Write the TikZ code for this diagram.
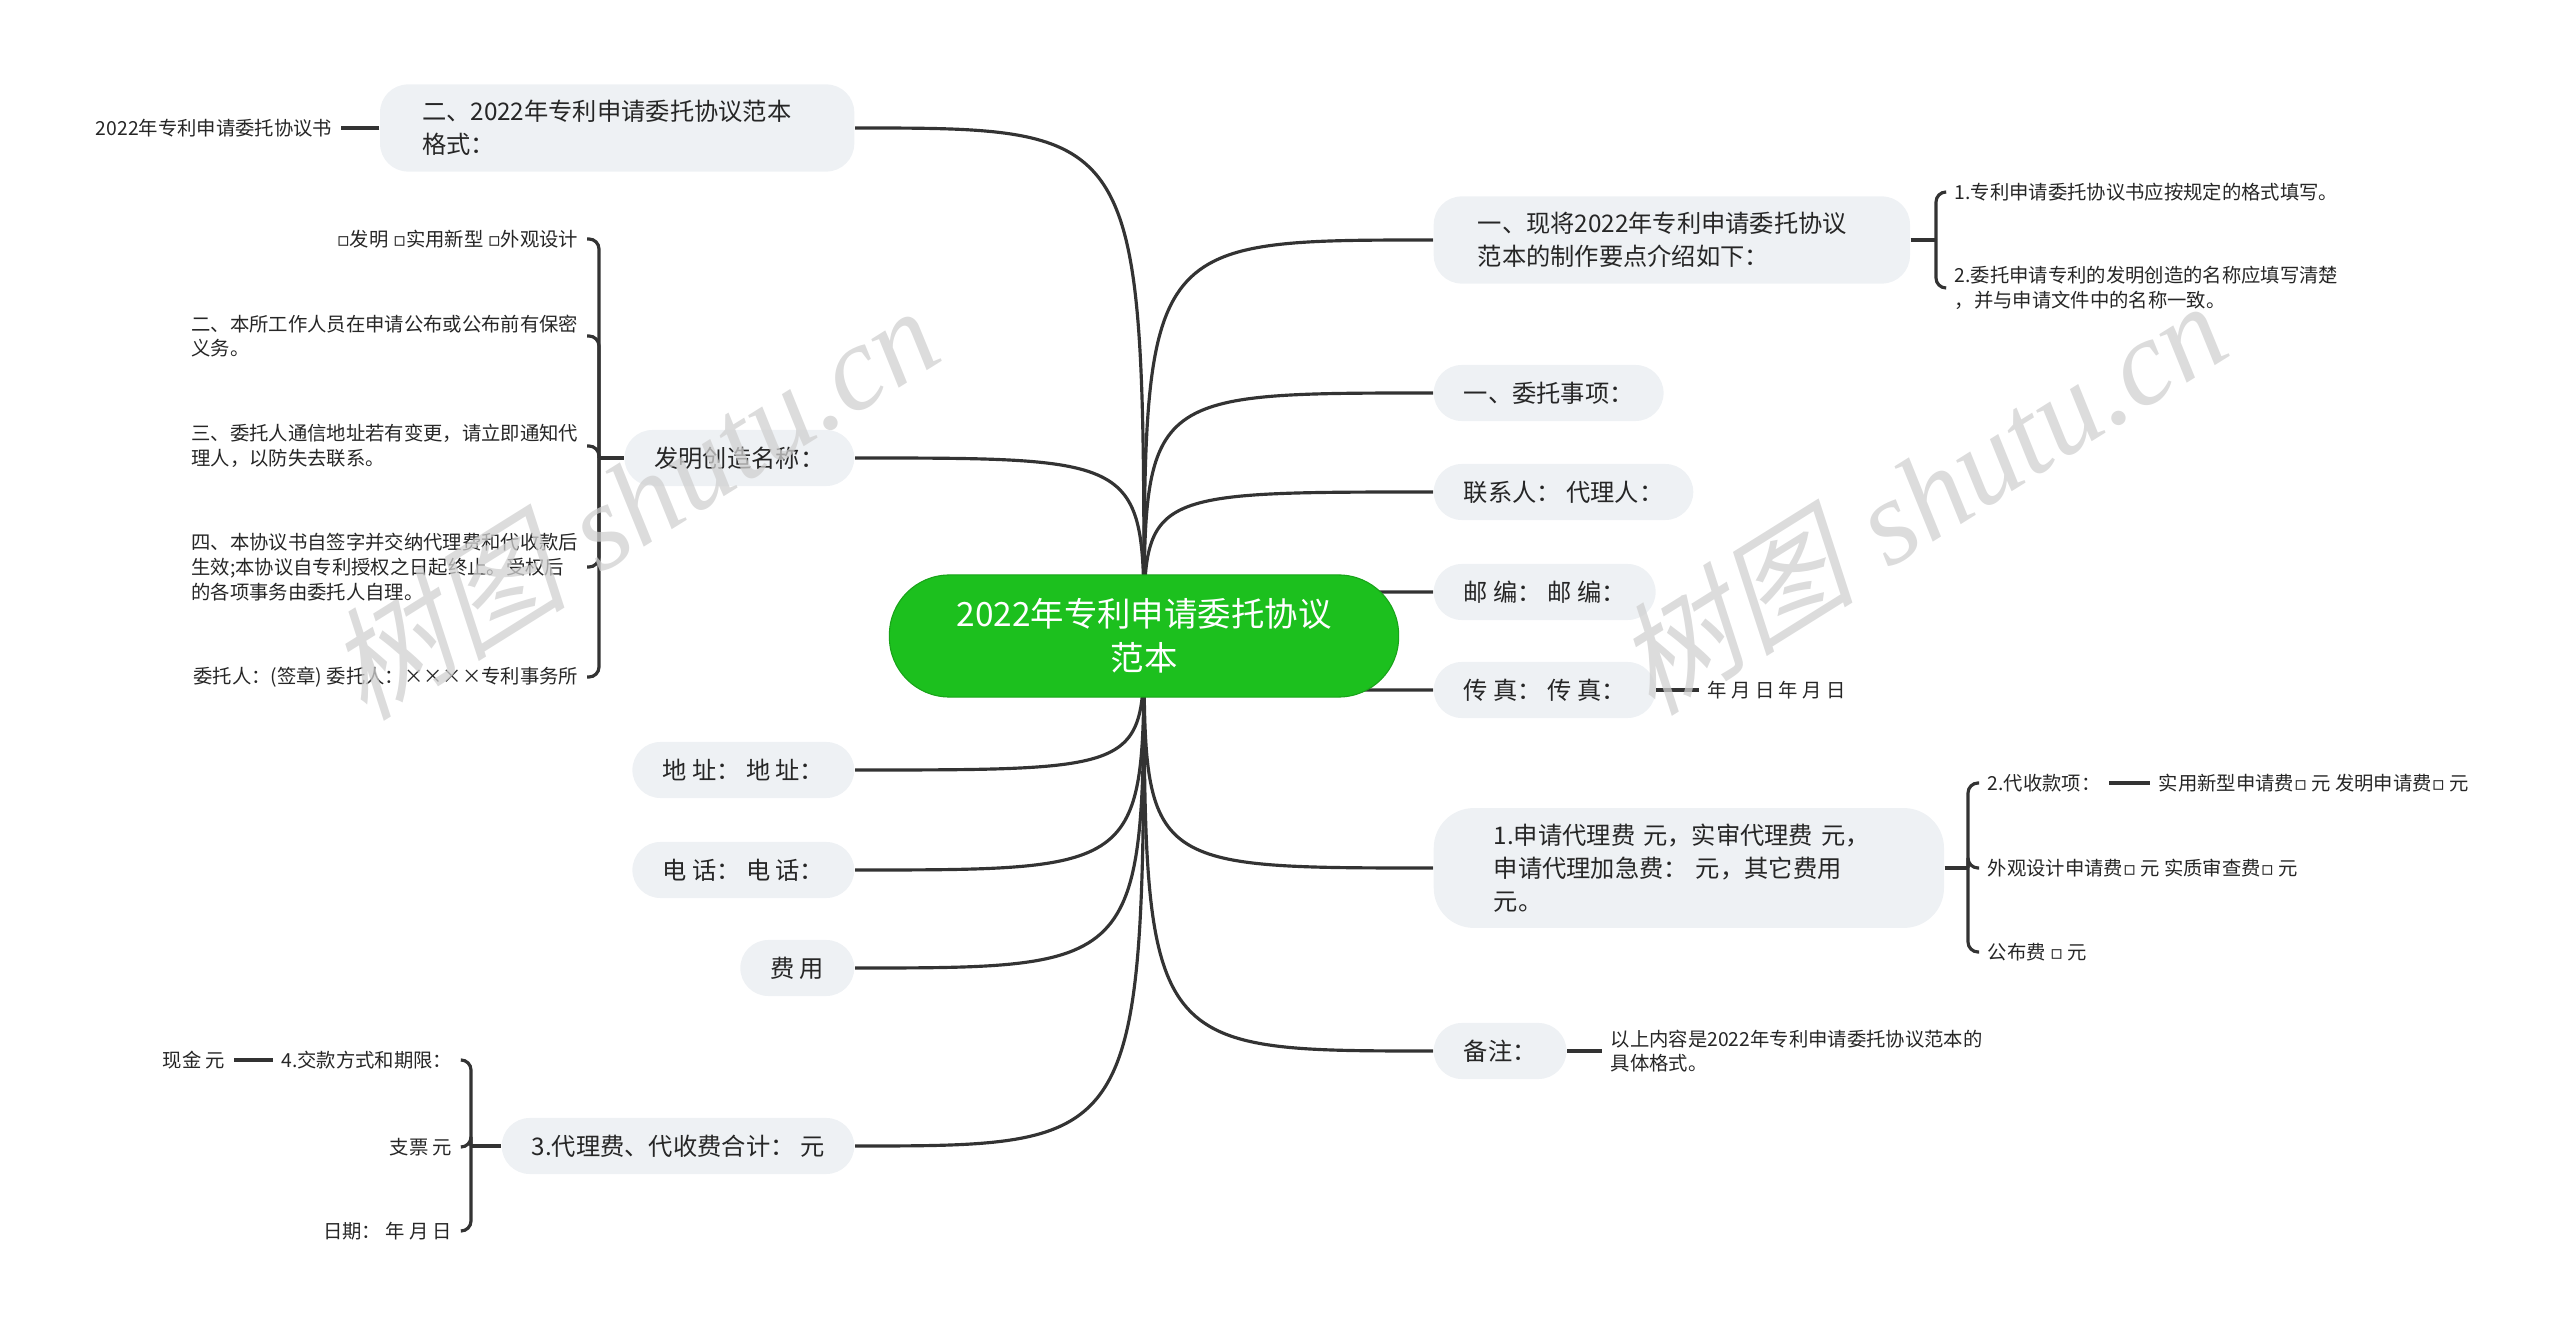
\documentclass[tikz,border=0pt]{standalone}
\usepackage{fontspec}
\newfontfamily\cjk{Noto Sans CJK SC}
\newfontfamily\cjkslant[FakeSlant=0.25]{Noto Sans CJK SC}
\newfontfamily\wmserif{Liberation Serif}
\newfontfamily\djv{DejaVu Sans}
\usetikzlibrary{backgrounds}
\definecolor{rootgreen}{HTML}{1CC01E}
\definecolor{topicbg}{HTML}{EEF1F4}
\definecolor{linkgray}{HTML}{333333}
\definecolor{wmgray}{HTML}{D0D0D0}
\newcommand\sqbox{{\djv ▫}}

\begin{document}
\begin{tikzpicture}[x=0.01cm, y=-0.01cm,
    root/.style={fill=rootgreen, draw=rootgreen!85!black, line width=0.3pt, text=white,
      rounded corners=0.6cm, minimum width=5.09cm, minimum height=1.22cm, align=center,
      font=\cjk\fontsize{9.5}{12.6}\selectfont},
    topic/.style={fill=topicbg, text=black!85, rounded corners=0.28cm, minimum height=0.56cm,
      inner xsep=0.3cm, inner ysep=0.16cm, align=left, font=\cjk\fontsize{6.9}{9.3}\selectfont},
    leaf/.style={text=black!85, inner xsep=0.08cm, inner ysep=0.02cm, align=left,
      font=\cjk\fontsize{5.5}{7}\selectfont},
    link/.style={draw=linkgray, line width=0.9pt},
    hook/.style={link, rounded corners=0.1cm},
    wm/.style={text=wmgray, opacity=0.75, rotate=32, font=\fontsize{34.5}{34.5}\selectfont}]
  \useasboundingbox (0,0) rectangle (2560,1337);

  \path (1144,636) node[root] (root) {2022年专利申请委托协议\\范本};

  % right side
  \path (1433,240)  node[topic, anchor=west, text width=3.88cm, inner xsep=0.44cm] (r1) {一、现将2022年专利申请委托协议\\范本的制作要点介绍如下：}
        (1433,393)  node[topic, anchor=west] (r2) {一、委托事项：}
        (1433,492)  node[topic, anchor=west] (r3) {联系人： 代理人：}
        (1433,592)  node[topic, anchor=west] (r4) {邮 编： 邮 编：}
        (1433,690)  node[topic, anchor=west] (r5) {传 真： 传 真：}
        (1433,868)  node[topic, anchor=west, text width=3.9cm, inner xsep=0.6cm, rounded corners=0.4cm] (r6) {1.申请代理费 元，实审代理费 元，\\申请代理加急费： 元，其它费用\\元。}
        (1433,1051) node[topic, anchor=west] (r7) {备注：};

  % left side
  \path (855,128)  node[topic, anchor=east, text width=3.9cm, inner xsep=0.42cm] (l1) {二、2022年专利申请委托协议范本\\格式：}
        (855,458)  node[topic, anchor=east] (l2) {发明创造名称：}
        (855,770)  node[topic, anchor=east] (l3) {地 址： 地 址：}
        (855,870)  node[topic, anchor=east] (l4) {电 话： 电 话：}
        (855,968)  node[topic, anchor=east] (l5) {费 用}
        (855,1146) node[topic, anchor=east] (l6) {3.代理费、代收费合计： 元};

  % leaves
  \path (1946,192)  node[leaf, anchor=west] (r1a) {1.专利申请委托协议书应按规定的格式填写。}
        (1946,288)  node[leaf, anchor=west] (r1b) {2.委托申请专利的发明创造的名称应填写清楚\\，并与申请文件中的名称一致。}
        (1699,690)  node[leaf, anchor=west] (r5a) {年 月 日 年 月 日}
        (1979,783)  node[leaf, anchor=west] (r6a) {2.代收款项：}
        (2150,783)  node[leaf, anchor=west] (r6d) {实用新型申请费\sqbox{} 元 发明申请费\sqbox{} 元}
        (1979,868)  node[leaf, anchor=west] (r6b) {外观设计申请费\sqbox{} 元 实质审查费\sqbox{} 元}
        (1979,952)  node[leaf, anchor=west] (r6c) {公布费 \sqbox{} 元}
        (1602,1051) node[leaf, anchor=west] (r7a) {以上内容是2022年专利申请委托协议范本的\\具体格式。};
  \path (341,128)  node[leaf, anchor=east] (l1a) {2022年专利申请委托协议书}
        (587,239)  node[leaf, anchor=east] (l2a) {\sqbox{}发明 \sqbox{}实用新型 \sqbox{}外观设计}
        (587,336)  node[leaf, anchor=east] (l2b) {二、本所工作人员在申请公布或公布前有保密\\义务。}
        (587,446)  node[leaf, anchor=east] (l2c) {三、委托人通信地址若有变更，请立即通知代\\理人，以防失去联系。}
        (587,567)  node[leaf, anchor=east] (l2d) {四、本协议书自签字并交纳代理费和代收款后\\生效;本协议自专利授权之日起终止。受权后\\的各项事务由委托人自理。}
        (587,677)  node[leaf, anchor=east] (l2e) {委托人：(签章) 委托人：××××专利事务所}
        (461,1060) node[leaf, anchor=east] (l6a) {4.交款方式和期限：}
        (234,1060) node[leaf, anchor=east] (l6d) {现金 元}
        (461,1147) node[leaf, anchor=east] (l6b) {支票 元}
        (461,1231) node[leaf, anchor=east] (l6c) {日期： 年 月 日};

  \coordinate (j1) at (1936,240);
  \coordinate (j6) at (1968,868);
  \coordinate (k2) at (599,458);
  \coordinate (k6) at (471,1146);

  \begin{scope}[on background layer]
    \foreach \n in {r1,r2,r3,r4,r5,r6,r7}
      \draw[link] (root.center) .. controls (root.center |- \n.west) .. (\n.west);
    \foreach \n in {l1,l2,l3,l4,l5,l6}
      \draw[link] (root.center) .. controls (root.center |- \n.east) .. (\n.east);
  \end{scope}

  % brackets
  \draw[link] (r1) -- (j1);
  \foreach \n in {r1a,r1b} \draw[hook] (j1) |- (\n.west);
  \draw[link] (r6) -- (j6);
  \foreach \n in {r6a,r6b,r6c} \draw[hook] (j6) |- (\n.west);
  \draw[link] (l2) -- (k2);
  \foreach \n in {l2a,l2b,l2c,l2d,l2e} \draw[hook] (k2) |- (\n.east);
  \draw[link] (l6) -- (k6);
  \foreach \n in {l6a,l6b,l6c} \draw[hook] (k6) |- (\n.east);

  \draw[link] (l1) -- (l1a);
  \draw[link] (r5) -- (r5a);
  \draw[link] (r6a) -- (r6d);
  \draw[link] (r7) -- (r7a);
  \draw[link] (l6a) -- (l6d);

  % watermark
  \node[wm] (wm1) at (631,501) {{\cjkslant 树图} {\wmserif\itshape shutu.cn}};
  \node[wm] (wm2) at (1919,496) {{\cjkslant 树图} {\wmserif\itshape shutu.cn}};
\end{tikzpicture}
\end{document}
